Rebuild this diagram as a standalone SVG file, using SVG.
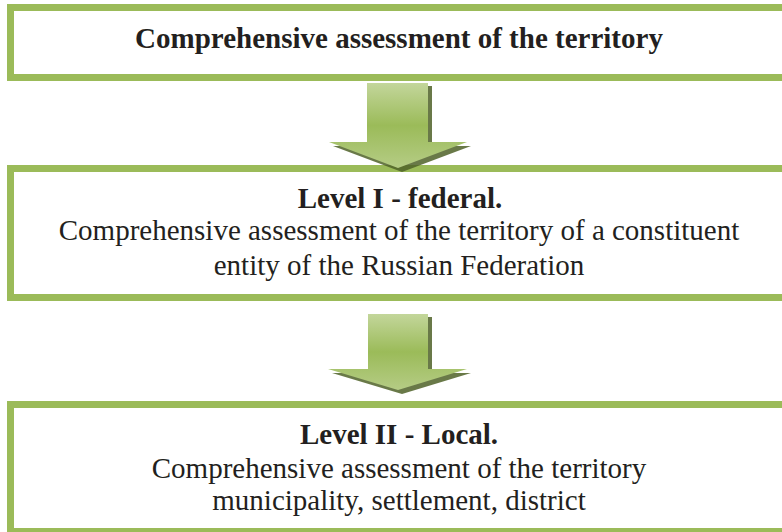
<svg xmlns="http://www.w3.org/2000/svg" width="782" height="532" viewBox="0 0 782 532">
<defs>
<style>
.box{fill:#fff;stroke:#9bbb59;stroke-width:7}
.t{font-family:"Liberation Serif","Times New Roman",serif;font-size:29px;fill:#231f20;text-anchor:middle}
.b{font-weight:bold}
</style>
<linearGradient id="ag" x1="0" y1="0" x2="0" y2="1">
<stop offset="0" stop-color="#c3d69b"/>
<stop offset="0.5" stop-color="#9bbb59"/>
<stop offset="1" stop-color="#b5cc85"/>
</linearGradient>
</defs>
<g id="box1"><rect class="box" x="10.5" y="7.5" width="800" height="70"/>
<text class="t b" x="399" y="48">Comprehensive assessment of the territory</text></g>
<g id="box2"><rect class="box" x="10.5" y="168.5" width="800" height="129"/>
<text class="t b" x="400" y="208">Level I - federal.</text>
<text class="t" x="399" y="240">Comprehensive assessment of the territory of a constituent</text>
<text class="t" x="399" y="275">entity of the Russian Federation</text></g>
<g id="box3"><rect class="box" x="10.5" y="404.5" width="800" height="127"/>
<text class="t b" x="399" y="444">Level II - Local.</text>
<text class="t" x="399" y="478">Comprehensive assessment of the territory</text>
<text class="t" x="399" y="510">municipality, settlement, district</text></g>
<g id="connectors">
<path d="M371 86 H432 V146 H471 L402 172 L333 146 H371 Z" fill="#4f6228" opacity="0.85"/>
<path d="M367 83 H428 V142 H467 L398 168 L329 142 H367 Z" fill="url(#ag)"/>
<path d="M372 317 H432 V373 H471 L402 394 L332 373 H372 Z" fill="#4f6228" opacity="0.85"/>
<path d="M368 314 H428 V369 H467 L398 390 L328 369 H368 Z" fill="url(#ag)"/>
</g>
</svg>
